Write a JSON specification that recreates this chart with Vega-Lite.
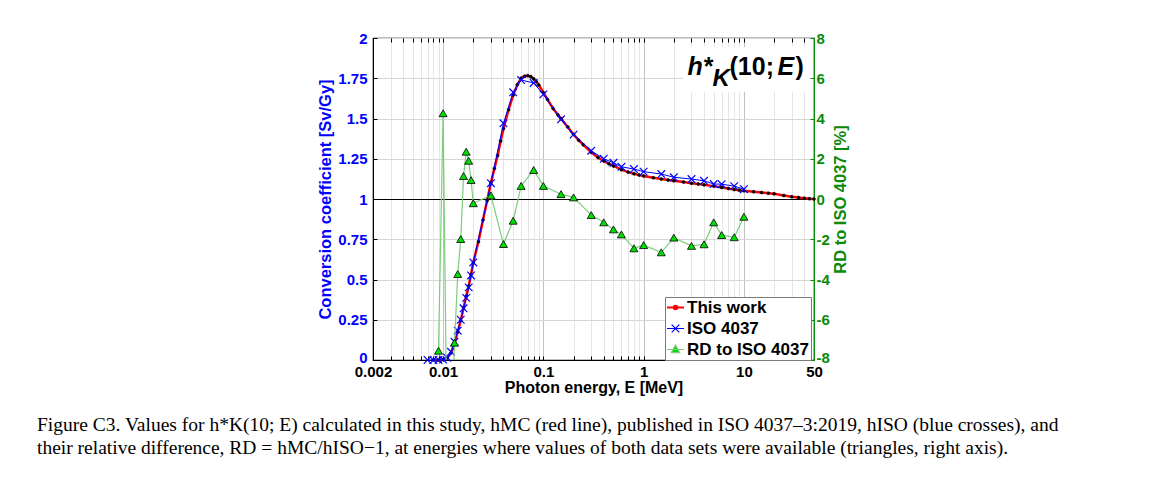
{
  "$schema": "https://vega.github.io/schema/vega-lite/v6.json",
  "width": 441,
  "height": 322,
  "autosize": {"type": "none"},
  "padding": {"left": 373, "top": 38, "right": 356, "bottom": 125},
  "background": "white",
  "config": {
    "font": "Liberation Sans",
    "view": {"stroke": "black", "strokeWidth": 1.2},
    "axis": {
      "labelFont": "Liberation Sans",
      "labelFontWeight": "bold",
      "labelFontSize": 15,
      "titleFont": "Liberation Sans",
      "titleFontWeight": "bold",
      "titleFontSize": 16
    }
  },
  "title": {
    "text": [
      "Figure C3. Values for h*K(10; E) calculated in this study, hMC (red line), published in ISO 4037\u20133:2019, hISO (blue crosses), and",
      "their relative difference, RD = hMC/hISO\u22121, at energies where values of both data sets were available (triangles, right axis)."
    ],
    "orient": "bottom",
    "anchor": "start",
    "frame": "group",
    "offset": 21,
    "dx": -336,
    "font": "Liberation Serif",
    "fontSize": 19.5,
    "fontWeight": "normal",
    "color": "black",
    "lineHeight": 23
  },
  "datasets": {
    "mc": [
      {"E": 0.008, "h": 0.0}, {"E": 0.009, "h": 0.0005}, {"E": 0.01, "h": 0.003}, {"E": 0.011, "h": 0.012},
      {"E": 0.012, "h": 0.045}, {"E": 0.013, "h": 0.105}, {"E": 0.014, "h": 0.175}, {"E": 0.015, "h": 0.245},
      {"E": 0.016, "h": 0.325}, {"E": 0.017, "h": 0.395}, {"E": 0.018, "h": 0.46}, {"E": 0.019, "h": 0.53},
      {"E": 0.02, "h": 0.605}, {"E": 0.0225, "h": 0.735}, {"E": 0.025, "h": 0.87}, {"E": 0.0275, "h": 0.99},
      {"E": 0.03, "h": 1.1}, {"E": 0.0325, "h": 1.19}, {"E": 0.035, "h": 1.27}, {"E": 0.0375, "h": 1.36},
      {"E": 0.04, "h": 1.437}, {"E": 0.045, "h": 1.555}, {"E": 0.05, "h": 1.645}, {"E": 0.055, "h": 1.71},
      {"E": 0.06, "h": 1.75}, {"E": 0.065, "h": 1.763}, {"E": 0.07, "h": 1.766}, {"E": 0.075, "h": 1.76},
      {"E": 0.08, "h": 1.746}, {"E": 0.085, "h": 1.73}, {"E": 0.09, "h": 1.708}, {"E": 0.1, "h": 1.661},
      {"E": 0.11, "h": 1.618}, {"E": 0.125, "h": 1.562}, {"E": 0.14, "h": 1.522}, {"E": 0.15, "h": 1.499},
      {"E": 0.175, "h": 1.447}, {"E": 0.2, "h": 1.401}, {"E": 0.225, "h": 1.365}, {"E": 0.25, "h": 1.337},
      {"E": 0.3, "h": 1.29}, {"E": 0.35, "h": 1.258}, {"E": 0.4, "h": 1.236}, {"E": 0.45, "h": 1.219},
      {"E": 0.5, "h": 1.205}, {"E": 0.6, "h": 1.182}, {"E": 0.7, "h": 1.167}, {"E": 0.8, "h": 1.157},
      {"E": 0.9, "h": 1.149}, {"E": 1, "h": 1.143}, {"E": 1.25, "h": 1.132}, {"E": 1.5, "h": 1.124},
      {"E": 1.75, "h": 1.118}, {"E": 2, "h": 1.113}, {"E": 2.5, "h": 1.105}, {"E": 3, "h": 1.098},
      {"E": 3.5, "h": 1.093}, {"E": 4, "h": 1.088}, {"E": 5, "h": 1.08}, {"E": 6, "h": 1.072},
      {"E": 7, "h": 1.065}, {"E": 8, "h": 1.059}, {"E": 9, "h": 1.055}, {"E": 10, "h": 1.051},
      {"E": 12.5, "h": 1.045}, {"E": 15, "h": 1.04}, {"E": 17.5, "h": 1.036}, {"E": 20, "h": 1.032},
      {"E": 25, "h": 1.022}, {"E": 30, "h": 1.014}, {"E": 35, "h": 1.009}, {"E": 40, "h": 1.005},
      {"E": 45, "h": 1.002}, {"E": 50, "h": 1.0}
    ],
    "iso": [
      {"E": 0.007, "h": 0.0}, {"E": 0.008, "h": 0.0}, {"E": 0.009, "h": 0.0005}, {"E": 0.01, "h": 0.003},
      {"E": 0.011, "h": 0.014}, {"E": 0.012, "h": 0.051}, {"E": 0.013, "h": 0.113}, {"E": 0.014, "h": 0.182},
      {"E": 0.015, "h": 0.25}, {"E": 0.016, "h": 0.321}, {"E": 0.017, "h": 0.386}, {"E": 0.018, "h": 0.451},
      {"E": 0.019, "h": 0.525}, {"E": 0.02, "h": 0.606}, {"E": 0.03, "h": 1.098}, {"E": 0.04, "h": 1.47},
      {"E": 0.05, "h": 1.663}, {"E": 0.06, "h": 1.739}, {"E": 0.08, "h": 1.721}, {"E": 0.1, "h": 1.65},
      {"E": 0.15, "h": 1.495}, {"E": 0.2, "h": 1.4}, {"E": 0.3, "h": 1.3}, {"E": 0.4, "h": 1.25},
      {"E": 0.5, "h": 1.225}, {"E": 0.6, "h": 1.2}, {"E": 0.8, "h": 1.186}, {"E": 1, "h": 1.17},
      {"E": 1.5, "h": 1.155}, {"E": 2, "h": 1.135}, {"E": 3, "h": 1.124}, {"E": 4, "h": 1.113},
      {"E": 5, "h": 1.093}, {"E": 6, "h": 1.092}, {"E": 8, "h": 1.08}, {"E": 10, "h": 1.061}
    ],
    "rd": [
      {"E": 0.009, "rd": -7.54}, {"E": 0.01, "rd": 4.26}, {"E": 0.011, "rd": -13}, {"E": 0.012, "rd": -12},
      {"E": 0.013, "rd": -7.14}, {"E": 0.014, "rd": -3.73}, {"E": 0.015, "rd": -1.99}, {"E": 0.016, "rd": 1.14},
      {"E": 0.017, "rd": 2.35}, {"E": 0.018, "rd": 1.9}, {"E": 0.019, "rd": 0.94}, {"E": 0.02, "rd": -0.21},
      {"E": 0.03, "rd": 0.18}, {"E": 0.04, "rd": -2.24}, {"E": 0.05, "rd": -1.08}, {"E": 0.06, "rd": 0.65},
      {"E": 0.08, "rd": 1.44}, {"E": 0.1, "rd": 0.65}, {"E": 0.15, "rd": 0.24}, {"E": 0.2, "rd": 0.08},
      {"E": 0.3, "rd": -0.8}, {"E": 0.4, "rd": -1.16}, {"E": 0.5, "rd": -1.51}, {"E": 0.6, "rd": -1.76},
      {"E": 0.8, "rd": -2.45}, {"E": 1, "rd": -2.29}, {"E": 1.5, "rd": -2.65}, {"E": 2, "rd": -1.92},
      {"E": 3, "rd": -2.33}, {"E": 4, "rd": -2.25}, {"E": 5, "rd": -1.16}, {"E": 6, "rd": -1.79},
      {"E": 8, "rd": -1.9}, {"E": 10, "rd": -0.88}
    ],
    "label": [
      {"E": 2.74, "h": 1.77, "E0": 2.46, "E1": 44.8, "h0": 1.944, "h1": 1.665}
    ]
  },
  "layer": [
    {
      "encoding": {
        "x": {
          "field": "E", "type": "quantitative",
          "scale": {"type": "log", "domain": [0.002, 50], "nice": false},
          "axis": {
            "values": [0.002, 0.003, 0.004, 0.005, 0.006, 0.007, 0.008, 0.009, 0.01, 0.02, 0.03, 0.04, 0.05, 0.06, 0.07, 0.08, 0.09, 0.1, 0.2, 0.3, 0.4, 0.5, 0.6, 0.7, 0.8, 0.9, 1, 2, 3, 4, 5, 6, 7, 8, 9, 10, 20, 30, 40, 50],
            "format": "~g",
            "labelExpr": "indexof([0.002, 0.01, 0.1, 1, 10, 50], datum.value) >= 0 ? datum.label : ''",
            "labelFlush": false,
            "labelOverlap": false,
            "labelColor": "black",
            "labelPadding": 8,
            "title": "Photon energy,  E  [MeV]",
            "titleColor": "black",
            "titlePadding": 0,
            "grid": true,
            "gridColor": {"condition": {"test": "datum.value == 0.01 || datum.value == 0.1 || datum.value == 1 || datum.value == 10", "value": "#c2c2c2"}, "value": "#e6e6e6"},
            "tickSize": -4,
            "tickColor": "black",
            "domainColor": "black"
          }
        },
        "y": {
          "field": "h", "type": "quantitative",
          "scale": {"domain": [0, 2], "nice": false, "zero": false},
          "axis": {
            "values": [0, 0.25, 0.5, 0.75, 1, 1.25, 1.5, 1.75, 2],
            "format": ".3~g",
            "title": "Conversion coefficient  [Sv/Gy]",
            "titleColor": "#0000ff",
            "titleFontSize": 16.5,
            "labelColor": "#0000ff",
            "labelPadding": 10,
            "labelOffset": {"condition": {"test": "datum.value == 0", "value": -3}, "value": 0},
            "titlePadding": 4,
            "grid": true,
            "gridColor": {"condition": {"test": "datum.value == 1", "value": "black"}, "value": "#d6d6d6"},
            "gridWidth": {"condition": {"test": "datum.value == 1", "value": 1.2}, "value": 1},
            "tickSize": -4,
            "tickColor": "black",
            "domainColor": "black"
          }
        }
      },
      "layer": [
        {
          "data": {"name": "mc"},
          "mark": {"type": "line", "strokeWidth": 2.5},
          "encoding": {
            "stroke": {
              "datum": "This work", "type": "nominal",
              "scale": {"domain": ["This work", "ISO 4037", "RD to ISO 4037"], "range": ["#ff0000", "#0000ff", "#7dcd7d"]},
              "legend": {
                "orient": "none", "legendX": 292, "legendY": 259, "title": null,
                "symbolType": "stroke", "symbolSize": 289, "symbolStrokeWidth": 2,
                "labelFont": "Liberation Sans", "labelFontSize": 17, "labelFontWeight": "bold", "labelColor": "black",
                "labelOffset": 3, "rowPadding": 3, "padding": 2,
                "strokeColor": "#7a7a7a", "fillColor": "white",
                "encode": {
                  "symbols": {
                    "update": {
                      "shape": {"signal": "datum.value == 'This work' ? 'M-1,0H1M-0.2,0A0.2,0.2,0,1,0,0.2,0A0.2,0.2,0,1,0,-0.2,0Z' : datum.value == 'ISO 4037' ? 'M-1,0H1M-0.45,-0.45L0.45,0.45M-0.45,0.45L0.45,-0.45' : 'M-1,0H1M0,-0.52L0.48,0.36L-0.48,0.36Z'"},
                      "fill": {"signal": "datum.value == 'This work' ? 'black' : datum.value == 'ISO 4037' ? 'transparent' : '#00e000'"},
                      "stroke": {"signal": "datum.value == 'This work' ? '#ff0000' : datum.value == 'ISO 4037' ? '#0000ff' : '#3f9f3f'"},
                      "strokeWidth": {"signal": "datum.value == 'This work' ? 2.2 : 1.2"},
                      "opacity": {"value": 1}
                    }
                  }
                }
              }
            }
          }
        },
        {
          "data": {"name": "mc"},
          "mark": {"type": "point", "size": 64, "opacity": 1, "strokeWidth": 0.5},
          "encoding": {
            "color": {
              "datum": "This work ", "type": "nominal",
              "scale": {"domain": ["This work ", "ISO 4037 ", "RD to ISO 4037 "], "range": ["black", "#0000ff", "black"]},
              "legend": null
            },
            "fill": {
              "datum": "This work ", "type": "nominal",
              "scale": {"domain": ["This work ", "ISO 4037 ", "RD to ISO 4037 "], "range": ["black", "transparent", "#00e000"]},
              "legend": null
            },
            "shape": {
              "datum": "This work ", "type": "nominal",
              "scale": {"domain": ["This work ", "ISO 4037 ", "RD to ISO 4037 "], "range": ["M-0.38,0A0.38,0.38,0,1,0,0.38,0A0.38,0.38,0,1,0,-0.38,0Z", "M-0.95,-0.95L0.95,0.95M-0.95,0.95L0.95,-0.95", "triangle-up"]},
              "legend": null
            }
          }
        },
        {
          "data": {"name": "iso"},
          "mark": {"type": "line", "strokeWidth": 1},
          "encoding": {"stroke": {"datum": "ISO 4037", "type": "nominal"}}
        },
        {
          "data": {"name": "iso"},
          "mark": {"type": "point", "size": 64, "opacity": 1, "strokeWidth": 1.2},
          "encoding": {
            "color": {"datum": "ISO 4037 ", "type": "nominal", "legend": null},
            "fill": {"datum": "ISO 4037 ", "type": "nominal", "legend": null},
            "shape": {"datum": "ISO 4037 ", "type": "nominal", "legend": null}
          }
        },
        {
          "data": {"name": "label"},
          "mark": {"type": "rect", "fill": "white"},
          "encoding": {
            "x": {"field": "E0", "type": "quantitative"},
            "x2": {"field": "E1"},
            "y": {"field": "h0", "type": "quantitative"},
            "y2": {"field": "h1"}
          }
        },
        {
          "data": {"name": "label"},
          "mark": {"type": "text", "text": "h*", "font": "Liberation Sans", "fontSize": 25, "fontWeight": "bold", "fontStyle": "italic", "align": "left", "baseline": "alphabetic", "color": "black"}
        },
        {
          "data": {"name": "label"},
          "mark": {"type": "text", "text": "K", "font": "Liberation Sans", "fontSize": 24, "fontWeight": "bold", "fontStyle": "italic", "align": "left", "baseline": "alphabetic", "dx": 25, "dy": 11, "color": "black"}
        },
        {
          "data": {"name": "label"},
          "mark": {"type": "text", "text": "(10;", "font": "Liberation Sans", "fontSize": 25, "fontWeight": "bold", "align": "left", "baseline": "alphabetic", "dx": 42, "color": "black"}
        },
        {
          "data": {"name": "label"},
          "mark": {"type": "text", "text": "E", "font": "Liberation Sans", "fontSize": 25, "fontWeight": "bold", "fontStyle": "italic", "align": "left", "baseline": "alphabetic", "dx": 90, "color": "black"}
        },
        {
          "data": {"name": "label"},
          "mark": {"type": "text", "text": ")", "font": "Liberation Sans", "fontSize": 25, "fontWeight": "bold", "align": "left", "baseline": "alphabetic", "dx": 108, "color": "black"}
        }
      ]
    },
    {
      "data": {"name": "rd"},
      "encoding": {
        "x": {
          "field": "E", "type": "quantitative",
          "scale": {"type": "log", "domain": [0.002, 50], "nice": false},
          "axis": {
            "orient": "top",
            "values": [0.002, 0.003, 0.004, 0.005, 0.006, 0.007, 0.008, 0.009, 0.01, 0.02, 0.03, 0.04, 0.05, 0.06, 0.07, 0.08, 0.09, 0.1, 0.2, 0.3, 0.4, 0.5, 0.6, 0.7, 0.8, 0.9, 1, 2, 3, 4, 5, 6, 7, 8, 9, 10, 20, 30, 40, 50],
            "labels": false,
            "title": null,
            "grid": false,
            "domain": false,
            "tickSize": -4,
            "tickColor": "black"
          }
        },
        "y": {
          "field": "rd", "type": "quantitative",
          "scale": {"domain": [-8, 8], "nice": false},
          "axis": {
            "orient": "right",
            "values": [-8, -6, -4, -2, 0, 2, 4, 6, 8],
            "labelExpr": "datum.value < 0 ? '-' + abs(datum.value) : '' + datum.value",
            "labelOffset": {"condition": {"test": "datum.value == -8", "value": -3}, "value": 0},
            "title": "RD to ISO 4037  [%]",
            "titleAngle": 270,
            "titleFontSize": 16.5,
            "grid": false,
            "labelColor": "#0a8a0a",
            "titleColor": "#0a8a0a",
            "domainColor": "#0a8a0a",
            "tickColor": "#0a8a0a",
            "tickSize": -4,
            "labelPadding": 6,
            "titlePadding": 19
          }
        }
      },
      "layer": [
        {
          "mark": {"type": "line", "strokeWidth": 1.2, "clip": true},
          "encoding": {"stroke": {"datum": "RD to ISO 4037", "type": "nominal"}}
        },
        {
          "mark": {"type": "point", "size": 64, "opacity": 1, "strokeWidth": 0.8, "clip": true},
          "encoding": {
            "color": {"datum": "RD to ISO 4037 ", "type": "nominal", "legend": null},
            "fill": {"datum": "RD to ISO 4037 ", "type": "nominal", "legend": null},
            "shape": {"datum": "RD to ISO 4037 ", "type": "nominal", "legend": null}
          }
        }
      ]
    }
  ],
  "resolve": {"scale": {"y": "independent"}, "axis": {"y": "independent", "x": "independent"}}
}
